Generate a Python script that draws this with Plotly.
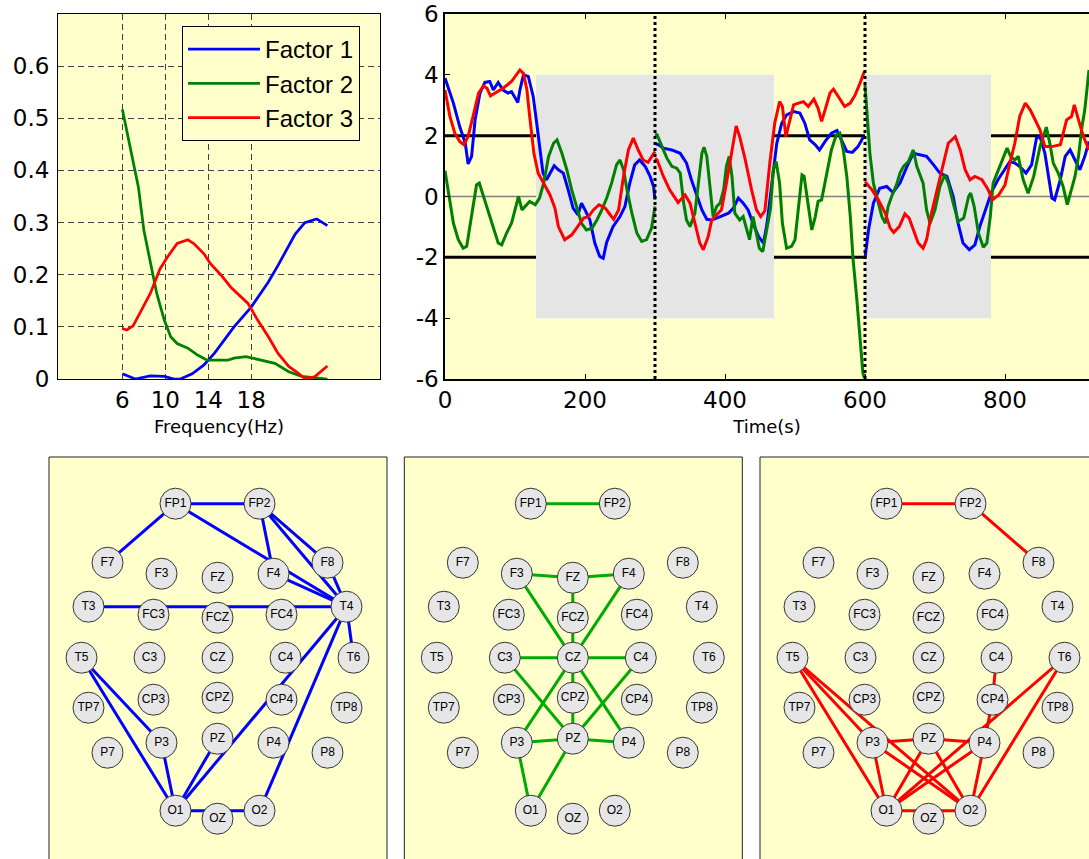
import plotly.graph_objects as go

# ---------------- spectral profiles of the three factors ----------------
freq_f1 = [6, 7.2, 8.6, 9.9, 10.8, 11.4, 12.5, 13.6, 14.6, 16.4, 18, 18.6, 19.6, 20.5, 21.5, 22.1, 23.0, 24.1, 25.1]
spec_f1 = [0.01, 0.0, 0.006, 0.005, 0.0, 0.0, 0.01, 0.027, 0.05, 0.10, 0.138, 0.157, 0.186, 0.218, 0.256, 0.278, 0.30, 0.307, 0.294]

freq_f2 = [6, 6.4, 7.0, 7.5, 8.0, 8.6, 9.2, 9.9, 10.5, 11.1, 12.1, 13.0, 13.9, 15.8, 16.4, 17.5, 18.6, 20.2, 21.5, 22.7, 25.1]
spec_f2 = [0.517, 0.476, 0.418, 0.367, 0.285, 0.221, 0.164, 0.113, 0.081, 0.068, 0.059, 0.046, 0.036, 0.036, 0.040, 0.043, 0.038, 0.030, 0.014, 0.005, 0.0]

freq_f3 = [6, 6.4, 7.0, 7.6, 8.6, 9.5, 10.2, 11.1, 12.1, 12.7, 13.6, 14.2, 15.2, 16.1, 17.1, 17.7, 18.6, 19.6, 20.5, 21.5, 22.4, 23.0, 23.9, 25.1]
spec_f3 = [0.097, 0.094, 0.102, 0.125, 0.164, 0.211, 0.234, 0.26, 0.267, 0.259, 0.24, 0.221, 0.199, 0.176, 0.157, 0.145, 0.113, 0.081, 0.049, 0.024, 0.011, 0.001, 0.004, 0.025]

freq_ticks = [6, 10, 14, 18]
spec_ticks = [0, 0.1, 0.2, 0.3, 0.4, 0.5, 0.6]

# ---------------- temporal courses (three 300 s sessions, None = break) ----------------
time_f1 = [0, 12, 21, 29, 33, 38, 43, 50, 57, 64, 69, 76, 83, 90, 95, 100, 104, 107, 112, 119, 126, 131, 136, 140, 145, 150,
           156, 162, 169, 176, 183, 190, 195, 200, 207, 214, 221, 226, 231, 240, 250, 257, 264, 271, 278, 286, 293, 298, 300,
           None,
           300, 305, 312, 324, 336, 345, 352, 360, 367, 374, 381, 388, 398, 405, 412, 419, 426, 433, 440, 448, 455, 460, 467,
           474, 481, 488, 498, 507, 514, 521, 529, 535, 543, 552, 560, 567, 574, 582, 590, 598,
           None,
           600, 605, 612, 621, 631, 640, 650, 660, 669, 679, 688, 698, 707, 717, 726, 733, 740, 749, 757, 764, 774, 781, 790,
           800, 807, 814, 821, 830, 838, 845, 850, 857, 862, 867, 871, 879, 886, 893, 900, 907, 914, 920]
score_f1 = [3.9, 3.07, 2.3, 1.75, 1.07, 1.32, 2.52, 3.4, 3.75, 3.78, 3.5, 3.75, 3.5, 3.4, 3.45, 3.23, 3.09, 3.5, 4.0, 3.95, 3.29,
            2.41, 1.42, 0.77, 0.55, 0.77, 1.01, 0.88, 0.77, 0.22, -0.38, -0.6, -0.22, -0.44, -0.77, -1.53, -1.97, -2.03, -1.5,
            -0.99, -0.66, -0.33, 0.44, 1.04, 1.2, 0.99, 0.66, 0.33, -0.1,
            None,
            1.75, 1.7, 1.59, 1.53, 1.42, 1.1, 0.55, 0.05, -0.44, -0.75, -0.77, -0.71, -0.6, -0.55, -0.38, -0.05, -0.22, -0.44,
            -0.88, -1.32, -1.53, -0.9, 0.44, 1.75, 2.41, 2.68, 2.79, 2.74, 2.41, 1.86, 1.7, 1.53, 1.81, 2.08, 2.17, 1.81, 1.48,
            1.45, 1.64, 1.97,
            None,
            -2.03, -1.1, -0.22, 0.27, 0.33, 0.13, 0.44, 0.99, 1.42, 1.37, 1.32, 1.04, 0.77, 0.66, 0.0, -0.88, -1.53, -1.75,
            -1.59, -0.99, -0.33, 0.16, 0.55, 0.88, 1.15, 1.1, 0.99, 0.77, 1.04, 1.92, 1.97, 1.42, 0.66, -0.05, -0.11, 0.55,
            1.32, 1.53, 1.2, 0.88, 1.32, 1.81]

time_f2 = [0, 6, 12, 19, 26, 31, 36, 41, 45, 49, 55, 62, 69, 76, 81, 88, 95, 100, 105, 110, 116, 121, 129, 135, 141, 148, 155,
           160, 167, 174, 181, 188, 195, 202, 210, 217, 224, 231, 238, 245, 250, 255, 260, 267, 274, 281, 288, 295, 300,
           None,
           300, 303, 310, 317, 324, 331, 336, 341, 345, 350, 357, 362, 367, 370, 374, 379, 383, 388, 393, 398, 402, 406, 410,
           414, 421, 426, 431, 435, 440, 444, 449, 454, 460, 465, 469, 473, 478, 482, 488, 495, 500, 505, 510, 513, 518, 524,
           529, 533, 538, 545, 552, 559, 564, 569, 574, 579, 583, 588, 593, 597, 599,
           None,
           600, 603, 607, 612, 618, 624, 629, 633, 638, 645, 650, 655, 662, 669, 674, 679, 683, 688, 693, 700, 707, 714, 719,
           726, 733, 741, 748, 751, 756, 762, 769, 774, 779, 783, 791, 798, 803, 808, 814, 819, 826, 833, 841, 850, 859, 864,
           869, 876, 883, 889, 895, 900, 905, 910, 914, 920]
score_f2 = [0.85, 0.0, -0.88, -1.42, -1.7, -1.64, -0.88, -0.11, 0.38, 0.44, 0.0, -0.55, -0.99, -1.53, -1.59, -1.2, -0.88,
            -0.44, 0.0, -0.44, -0.27, -0.16, -0.27, -0.05, 0.44, 1.32, 1.75, 1.86, 1.42, 0.88, 0.22, -0.33, -0.88, -1.1,
            -1.04, -0.77, -0.44, -0.05, 0.44, 1.04, 1.2, 0.88, 0.22, -0.55, -1.2, -1.48, -1.42, -1.04, -0.33,
            None,
            2.05, 2.03, 1.64, 1.26, 0.99, 0.93, 0.77, -0.22, -0.77, -0.99, -0.55, 0.44, 1.42, 1.62, 1.32, 0.22, -0.66, -0.33,
            -0.22, 0.22, 0.99, 1.32, 0.66, -0.55, -0.77, -0.66, -1.1, -1.42, -0.66, -1.1, -1.7, -1.81, -1.0, -0.4, 0.88,
            1.15, 0.44, -0.88, -1.7, -1.64, -1.42, -0.44, 0.71, 0.66, -0.22, -1.1, -0.66, -0.16, -0.11, 0.66, 1.53, 2.03,
            2.08, 1.53, 0.66, -0.66, -2.08, -3.29, -4.71, -5.81, -5.95,
            None,
            3.67, 2.63, 1.42, 0.44, -0.11, -0.66, -0.88, -0.33, 0.0, 0.38, 0.77, 0.99, 1.15, 1.53, 0.99, 0.7, 0.44, -0.44,
            -0.88, -0.44, 0.33, 0.71, 0.44, -0.22, -0.82, -0.71, 0.0, 0.11, -0.33, -1.2, -1.67, -1.53, -0.66, 0.44, 0.88,
            1.32, 1.59, 1.32, 1.2, 1.32, 0.55, 0.11, 0.66, 1.64, 2.28, 1.75, 1.1, 0.77, 0.33, -0.27, 0.22, 0.66, 1.32, 2.3,
            2.85, 4.16]

time_f3 = [0, 7, 14, 21, 27, 33, 40, 48, 55, 60, 65, 71, 83, 95, 107, 112, 117, 121, 127, 133, 143, 150, 157, 162, 171, 181,
           188, 198, 205, 212, 220, 229, 236, 241, 248, 255, 262, 269, 276, 283, 290, 300,
           None,
           300, 303, 312, 321, 333, 343, 350, 357, 364, 369, 376, 381, 388, 395, 402, 410, 416, 421, 429, 438, 445, 451, 457,
           464, 471, 478, 482, 487, 492, 498, 505, 512, 519, 527, 533, 538, 543, 550, 555, 562, 571, 579, 586, 593, 599,
           None,
           600, 610, 619, 629, 636, 641, 649, 657, 663, 669, 676, 683, 688, 695, 705, 712, 719, 729, 736, 743, 750, 757, 767,
           776, 782, 791, 800, 807, 814, 821, 829, 836, 843, 850, 857, 867, 879, 888, 895, 899, 905, 912, 920]
score_f3 = [3.5, 2.63, 2.08, 1.81, 1.7, 1.97, 2.63, 3.4, 3.64, 3.56, 3.31, 3.4, 3.56, 3.78, 4.16, 4.05, 3.51, 2.63, 1.42, 0.77,
            0.33, 0.05, -0.38, -0.99, -1.42, -1.26, -1.04, -0.71, -0.66, -0.44, -0.27, -0.38, -0.6, -0.75, -0.44, 0.66, 1.53,
            1.92, 1.53, 1.2, 1.12, 1.48,
            None,
            1.25, 1.2, 0.66, 0.22, -0.2, 0.05, -0.22, -0.88, -1.53, -1.75, -1.32, -0.77, -0.6, -0.44, 0.44, 1.53, 2.32, 1.97,
            1.2, 0.22, -0.44, -0.66, -0.47, 1.1, 2.41, 3.12, 2.96, 1.97, 2.41, 3.01, 3.07, 3.12, 2.96, 3.2, 2.9, 2.47, 2.85,
            3.4, 3.53, 3.29, 2.96, 3.07, 3.34, 3.73, 4.11,
            None,
            0.49, 0.22, -0.11, -0.55, -1.04, -1.18, -0.99, -0.57, -0.71, -1.1, -1.53, -1.7, -1.42, -0.55, 0.44, 1.1, 1.75,
            1.97, 1.53, 0.88, 0.55, 0.66, 0.55, 0.22, -0.11, 0.05, 0.38, 1.1, 1.75, 2.63, 3.07, 2.85, 2.52, 2.19, 1.64, 1.64,
            1.7, 2.52, 2.63, 3.01, 2.52, 1.97, 1.53]

time_ticks = [0, 200, 400, 600, 800]
score_ticks = [-6, -4, -2, 0, 2, 4, 6]
task_blocks = [(130, 470), (600, 780)]
block_height = 4
score_threshold = 2
session_bounds = [300, 600]

# ---------------- electrode montage and factor connectivity ----------------
electrodes = ["FP1", "FP2", "F7", "F3", "FZ", "F4", "F8", "T3", "FC3", "FCZ", "FC4", "T4",
              "T5", "C3", "CZ", "C4", "T6", "TP7", "CP3", "CPZ", "CP4", "TP8",
              "P7", "P3", "PZ", "P4", "P8", "O1", "OZ", "O2"]
montage_x = [-42, 42, -110, -56, 0, 56, 110, -129, -64, 0, 64, 129,
             -136, -68, 0, 68, 136, -129, -64, 0, 64, 129,
             -110, -56, 0, 56, 110, -42, 0, 42]
montage_y = [154, 154, 95, 84, 80, 84, 95, 51, 43, 40, 43, 51,
             0, 0, 0, 0, 0, -50, -42, -40, -42, -50,
             -95, -85, -81, -85, -95, -153, -161, -153]

links_f1 = [("FP1", "FP2"), ("FP1", "F7"), ("FP1", "T4"), ("FP2", "F4"), ("FP2", "F8"), ("FP2", "T4"),
            ("F8", "T4"), ("F4", "T4"), ("T3", "T4"), ("T4", "T6"), ("T4", "O1"), ("T4", "O2"),
            ("T5", "P3"), ("T5", "O1"), ("P3", "O1"), ("PZ", "O1"), ("O1", "O2")]
links_f2 = [("FP1", "FP2"), ("F3", "FZ"), ("FZ", "F4"), ("FZ", "CZ"), ("CZ", "PZ"), ("F3", "P4"), ("F4", "P3"),
            ("C3", "C4"), ("C3", "PZ"), ("C4", "PZ"), ("P3", "PZ"), ("PZ", "P4"), ("P3", "O1"), ("PZ", "O1")]
links_f3 = [("FP1", "FP2"), ("FP2", "F8"), ("C4", "CP4"), ("CP4", "P4"), ("T5", "P3"), ("T5", "O1"), ("T5", "O2"),
            ("T6", "O1"), ("T6", "O2"), ("P3", "PZ"), ("PZ", "P4"), ("P3", "O1"), ("P3", "O2"), ("PZ", "O1"),
            ("PZ", "O2"), ("P4", "O1"), ("P4", "O2"), ("O1", "O2")]

factor_names = ["Factor 1", "Factor 2", "Factor 3"]
line_colors = ["#0000ff", "#008000", "#ff0000"]
link_colors = ["#0000ff", "#00aa00", "#ff0000"]

FONT = "Liberation Sans, Arial, sans-serif"
TICK_FONT = "DejaVu Sans, sans-serif"
W, H = 1089, 859
BG = "#ffffcc"

fig = go.Figure()

# spectral profiles (top left)
for name, fx, fy, col in zip(factor_names, [freq_f1, freq_f2, freq_f3], [spec_f1, spec_f2, spec_f3], line_colors):
    fig.add_trace(go.Scatter(x=fx, y=fy, mode="lines", name=name, line=dict(color=col, width=2.75),
                             xaxis="x", yaxis="y", showlegend=True))

# temporal courses (top right)
for tx, ty, col in zip([time_f1, time_f2, time_f3], [score_f1, score_f2, score_f3], line_colors):
    fig.add_trace(go.Scatter(x=tx, y=ty, mode="lines", line=dict(color=col, width=3),
                             xaxis="x2", yaxis="y2", showlegend=False, connectgaps=False))

# connectivity maps (bottom)
pos = {e: (x, y) for e, x, y in zip(electrodes, montage_x, montage_y)}
for k, (links, col) in enumerate(zip([links_f1, links_f2, links_f3], link_colors)):
    ax = "x%d" % (k + 3)
    ay = "y%d" % (k + 3)
    ex, ey = [], []
    for a, b in links:
        ex += [pos[a][0], pos[b][0], None]
        ey += [pos[a][1], pos[b][1], None]
    fig.add_trace(go.Scatter(x=ex, y=ey, mode="lines", line=dict(color=col, width=3),
                             xaxis=ax, yaxis=ay, showlegend=False, hoverinfo="skip"))
    fig.add_trace(go.Scatter(x=montage_x, y=montage_y, mode="markers+text", text=electrodes,
                             textposition="middle center", textfont=dict(family=FONT, size=12, color="#000"),
                             marker=dict(size=31, color="#e6e6e6", line=dict(color="#333333", width=1)),
                             xaxis=ax, yaxis=ay, showlegend=False))

def px(v):
    return v / W

def py(v):
    return 1 - v / H

tick_font = dict(family=TICK_FONT, size=23, color="#000")
title_font = dict(family=TICK_FONT, size=18, color="#000")
layout = dict(
    width=W, height=H, margin=dict(l=0, r=0, t=0, b=0, autoexpand=False),
    paper_bgcolor="white", plot_bgcolor=BG,
    font=dict(family=FONT, color="#000"),
    legend=dict(x=px(182), y=py(26), xanchor="left", yanchor="top", bgcolor=BG,
                bordercolor="#000", borderwidth=1, font=dict(family=FONT, size=24),
                itemwidth=72, tracegroupgap=0),
    xaxis=dict(domain=[px(58), px(380)], range=[0, 30], tickvals=freq_ticks, tickfont=tick_font,
               showgrid=True, gridcolor="#404040", griddash="6px,4px", gridwidth=1, automargin=False,
               showline=True, linecolor="#000", linewidth=1, mirror=True, ticks="", zeroline=False,
               title=dict(text="Frequency(Hz)", font=title_font, standoff=8)),
    yaxis=dict(domain=[py(379), py(14)], range=[0, 0.7], tickvals=spec_ticks,
               ticktext=[("%g" % v) for v in spec_ticks], tickfont=tick_font, automargin=False,
               ticklabelstandoff=3,
               showgrid=True, gridcolor="#404040", griddash="6px,4px", gridwidth=1,
               showline=True, linecolor="#000", linewidth=1, mirror=True, ticks="", zeroline=False),
    xaxis2=dict(domain=[px(445), 1.0], range=[0, 920], tickvals=time_ticks, tickfont=tick_font,
                showgrid=False, showline=True, linecolor="#000", linewidth=1.5, mirror="ticks",
                ticks="inside", ticklen=5, tickcolor="#000", zeroline=False, automargin=False,
                title=dict(text="Time(s)", font=title_font, standoff=8)),
    yaxis2=dict(domain=[py(379), py(14)], range=[-6, 6], tickvals=score_ticks,
                ticktext=[str(v) for v in score_ticks], tickfont=tick_font, automargin=False,
                showgrid=False, showline=True, linecolor="#000", linewidth=1.5, mirror=False,
                ticks="inside", ticklen=5, tickcolor="#000", zeroline=False, anchor="x2"),
)

panel_left = [49, 404.3, 760]
panel_width = 338
montage_cx = 168.5
montage_top = 200.7
panel_top = 457
shapes = []
for k, left in enumerate(panel_left):
    right = min(left + panel_width, W)
    layout["xaxis%d" % (k + 3)] = dict(domain=[px(left), px(right)],
                                       range=[-montage_cx, -montage_cx + (right - left)],
                                       visible=False, fixedrange=True, automargin=False)
    layout["yaxis%d" % (k + 3)] = dict(domain=[0, py(panel_top)],
                                       range=[montage_top - (H - panel_top), montage_top],
                                       visible=False, fixedrange=True, anchor="x%d" % (k + 3), automargin=False)
    shapes.append(dict(type="rect", xref="paper", yref="paper", x0=px(left), x1=px(left + panel_width),
                       y0=-0.05, y1=py(panel_top), fillcolor=BG, line=dict(color="#222", width=1), layer="below"))

for t0, t1 in task_blocks:
    shapes.append(dict(type="rect", xref="x2", yref="y2", x0=t0, x1=t1, y0=-block_height, y1=block_height,
                       fillcolor="#e5e5e5", line=dict(width=0), layer="below"))
shapes.append(dict(type="line", xref="x2 domain", yref="y2", x0=0, x1=1, y0=0, y1=0,
                   line=dict(color="#808080", width=1.5), layer="below"))
for thr in (score_threshold, -score_threshold):
    shapes.append(dict(type="line", xref="x2 domain", yref="y2", x0=0, x1=1, y0=thr, y1=thr,
                       line=dict(color="#000", width=3), layer="below"))
for tb in session_bounds:
    shapes.append(dict(type="line", xref="x2", yref="y2 domain", x0=tb, x1=tb, y0=0, y1=1,
                       line=dict(color="#000", width=3, dash="dot"), layer="above"))

layout["shapes"] = shapes
fig.update_layout(**layout)
fig.write_html("out.html")
